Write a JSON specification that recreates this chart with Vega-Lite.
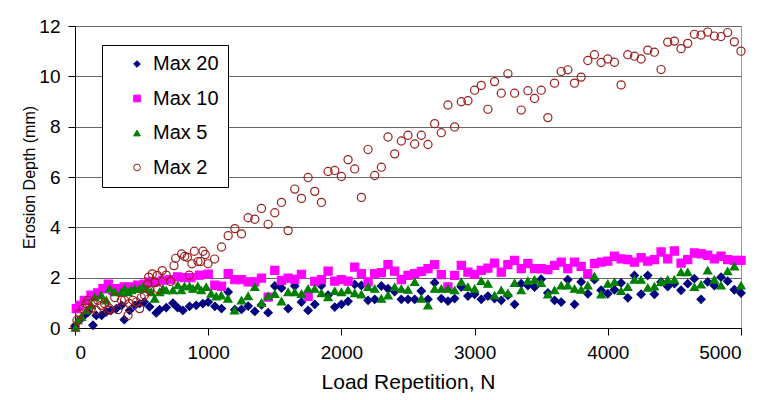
{
"$schema": "https://vega.github.io/schema/vega-lite/v6.json",
"width": 666, "height": 302,
"autosize": {"type": "none"},
"padding": {"left": 75, "top": 26, "right": 21, "bottom": 72},
"background": "white",
"config": {
  "font": "Liberation Sans",
  "view": {"stroke": "#999999", "strokeWidth": 1},
  "axis": {"labelFont": "Liberation Sans", "titleFont": "Liberation Sans", "labelColor": "#000", "titleColor": "#000", "domainColor": "#000", "tickColor": "#000", "titleFontWeight": "normal"},
  "legend": {"orient": "none", "legendX": 27, "legendY": 19, "padding": 9, "strokeColor": "#000000", "fillColor": "#ffffff", "labelFontSize": 20, "labelFont": "Liberation Sans", "labelColor": "#000", "symbolOffset": 16, "labelOffset": 6, "rowPadding": 14.5, "symbolSize": 45, "symbolStrokeWidth": 1}
},
"data": {"values": [
{"series":"Max 20","rep":0,"depth":0.07},{"series":"Max 20","rep":35,"depth":0.31},{"series":"Max 20","rep":70,"depth":0.5},{"series":"Max 20","rep":100,"depth":0.64},{"series":"Max 20","rep":135,"depth":0.11},{"series":"Max 20","rep":160,"depth":0.5},{"series":"Max 20","rep":200,"depth":0.5},{"series":"Max 20","rep":235,"depth":0.64},{"series":"Max 20","rep":270,"depth":0.7},{"series":"Max 20","rep":310,"depth":0.77},{"series":"Max 20","rep":350,"depth":0.9},{"series":"Max 20","rep":370,"depth":0.33},{"series":"Max 20","rep":410,"depth":0.7},{"series":"Max 20","rep":450,"depth":0.9},{"series":"Max 20","rep":485,"depth":0.97},{"series":"Max 20","rep":520,"depth":1.03},{"series":"Max 20","rep":560,"depth":0.84},{"series":"Max 20","rep":610,"depth":0.6},{"series":"Max 20","rep":635,"depth":0.73},{"series":"Max 20","rep":685,"depth":0.81},{"series":"Max 20","rep":735,"depth":0.99},{"series":"Max 20","rep":770,"depth":0.81},{"series":"Max 20","rep":810,"depth":0.7},{"series":"Max 20","rep":860,"depth":0.86},{"series":"Max 20","rep":910,"depth":0.9},{"series":"Max 20","rep":960,"depth":0.97},{"series":"Max 20","rep":1000,"depth":1.03},{"series":"Max 20","rep":1050,"depth":0.86},{"series":"Max 20","rep":1100,"depth":0.77},{"series":"Max 20","rep":1150,"depth":1.43},{"series":"Max 20","rep":1200,"depth":0.73},{"series":"Max 20","rep":1250,"depth":0.74},{"series":"Max 20","rep":1300,"depth":0.87},{"series":"Max 20","rep":1350,"depth":0.66},{"series":"Max 20","rep":1400,"depth":0.92},{"series":"Max 20","rep":1450,"depth":0.61},{"series":"Max 20","rep":1500,"depth":1.67},{"series":"Max 20","rep":1550,"depth":1.59},{"series":"Max 20","rep":1600,"depth":0.77},{"series":"Max 20","rep":1650,"depth":1.67},{"series":"Max 20","rep":1700,"depth":1.03},{"series":"Max 20","rep":1750,"depth":0.7},{"series":"Max 20","rep":1800,"depth":0.94},{"series":"Max 20","rep":1850,"depth":1.69},{"series":"Max 20","rep":1900,"depth":1.3},{"series":"Max 20","rep":1950,"depth":0.83},{"series":"Max 20","rep":2000,"depth":0.94},{"series":"Max 20","rep":2050,"depth":1.06},{"series":"Max 20","rep":2100,"depth":1.73},{"series":"Max 20","rep":2150,"depth":1.69},{"series":"Max 20","rep":2200,"depth":1.1},{"series":"Max 20","rep":2250,"depth":1.14},{"series":"Max 20","rep":2300,"depth":1.67},{"series":"Max 20","rep":2350,"depth":1.56},{"series":"Max 20","rep":2400,"depth":1.45},{"series":"Max 20","rep":2450,"depth":1.14},{"series":"Max 20","rep":2500,"depth":1.14},{"series":"Max 20","rep":2550,"depth":1.14},{"series":"Max 20","rep":2600,"depth":1.47},{"series":"Max 20","rep":2650,"depth":1.14},{"series":"Max 20","rep":2700,"depth":1.8},{"series":"Max 20","rep":2750,"depth":1.17},{"series":"Max 20","rep":2800,"depth":1.07},{"series":"Max 20","rep":2850,"depth":1.17},{"series":"Max 20","rep":2900,"depth":1.63},{"series":"Max 20","rep":2950,"depth":1.27},{"series":"Max 20","rep":3000,"depth":1.34},{"series":"Max 20","rep":3050,"depth":1.14},{"series":"Max 20","rep":3100,"depth":1.27},{"series":"Max 20","rep":3150,"depth":1.17},{"series":"Max 20","rep":3200,"depth":1.1},{"series":"Max 20","rep":3250,"depth":1.3},{"series":"Max 20","rep":3300,"depth":0.94},{"series":"Max 20","rep":3350,"depth":1.76},{"series":"Max 20","rep":3400,"depth":1.69},{"series":"Max 20","rep":3450,"depth":1.63},{"series":"Max 20","rep":3500,"depth":1.94},{"series":"Max 20","rep":3550,"depth":1.39},{"series":"Max 20","rep":3600,"depth":1.1},{"series":"Max 20","rep":3650,"depth":1.03},{"series":"Max 20","rep":3700,"depth":1.92},{"series":"Max 20","rep":3750,"depth":0.94},{"series":"Max 20","rep":3800,"depth":1.83},{"series":"Max 20","rep":3850,"depth":1.36},{"series":"Max 20","rep":3900,"depth":1.92},{"series":"Max 20","rep":3950,"depth":1.5},{"series":"Max 20","rep":4000,"depth":1.36},{"series":"Max 20","rep":4050,"depth":1.52},{"series":"Max 20","rep":4100,"depth":1.79},{"series":"Max 20","rep":4150,"depth":1.2},{"series":"Max 20","rep":4200,"depth":2.09},{"series":"Max 20","rep":4250,"depth":1.34},{"series":"Max 20","rep":4300,"depth":2.09},{"series":"Max 20","rep":4350,"depth":1.34},{"series":"Max 20","rep":4400,"depth":1.83},{"series":"Max 20","rep":4450,"depth":1.65},{"series":"Max 20","rep":4500,"depth":1.76},{"series":"Max 20","rep":4550,"depth":1.5},{"series":"Max 20","rep":4600,"depth":1.76},{"series":"Max 20","rep":4650,"depth":1.96},{"series":"Max 20","rep":4700,"depth":1.14},{"series":"Max 20","rep":4750,"depth":1.83},{"series":"Max 20","rep":4800,"depth":1.69},{"series":"Max 20","rep":4850,"depth":2.02},{"series":"Max 20","rep":4900,"depth":1.86},{"series":"Max 20","rep":4950,"depth":1.52},{"series":"Max 20","rep":5000,"depth":1.39},
{"series":"Max 10","rep":10,"depth":0.77},{"series":"Max 10","rep":35,"depth":0.9},{"series":"Max 10","rep":70,"depth":1.1},{"series":"Max 10","rep":120,"depth":1.3},{"series":"Max 10","rep":170,"depth":1.39},{"series":"Max 10","rep":210,"depth":1.56},{"series":"Max 10","rep":250,"depth":1.74},{"series":"Max 10","rep":285,"depth":1.5},{"series":"Max 10","rep":320,"depth":1.56},{"series":"Max 10","rep":370,"depth":1.63},{"series":"Max 10","rep":420,"depth":1.63},{"series":"Max 10","rep":470,"depth":1.7},{"series":"Max 10","rep":520,"depth":1.74},{"series":"Max 10","rep":560,"depth":1.83},{"series":"Max 10","rep":610,"depth":1.83},{"series":"Max 10","rep":660,"depth":1.9},{"series":"Max 10","rep":720,"depth":1.92},{"series":"Max 10","rep":770,"depth":2.03},{"series":"Max 10","rep":820,"depth":2.0},{"series":"Max 10","rep":870,"depth":2.0},{"series":"Max 10","rep":935,"depth":2.1},{"series":"Max 10","rep":1000,"depth":2.14},{"series":"Max 10","rep":1050,"depth":1.7},{"series":"Max 10","rep":1100,"depth":1.66},{"series":"Max 10","rep":1150,"depth":2.16},{"series":"Max 10","rep":1200,"depth":1.92},{"series":"Max 10","rep":1250,"depth":1.92},{"series":"Max 10","rep":1300,"depth":1.83},{"series":"Max 10","rep":1350,"depth":1.83},{"series":"Max 10","rep":1400,"depth":1.98},{"series":"Max 10","rep":1450,"depth":1.23},{"series":"Max 10","rep":1500,"depth":2.29},{"series":"Max 10","rep":1550,"depth":1.89},{"series":"Max 10","rep":1600,"depth":1.98},{"series":"Max 10","rep":1650,"depth":1.93},{"series":"Max 10","rep":1700,"depth":2.13},{"series":"Max 10","rep":1750,"depth":1.26},{"series":"Max 10","rep":1800,"depth":1.85},{"series":"Max 10","rep":1850,"depth":1.92},{"series":"Max 10","rep":1900,"depth":2.26},{"series":"Max 10","rep":1950,"depth":1.86},{"series":"Max 10","rep":2000,"depth":1.92},{"series":"Max 10","rep":2050,"depth":1.86},{"series":"Max 10","rep":2100,"depth":2.42},{"series":"Max 10","rep":2150,"depth":2.16},{"series":"Max 10","rep":2200,"depth":1.83},{"series":"Max 10","rep":2250,"depth":2.16},{"series":"Max 10","rep":2300,"depth":2.2},{"series":"Max 10","rep":2350,"depth":2.52},{"series":"Max 10","rep":2400,"depth":2.26},{"series":"Max 10","rep":2450,"depth":1.92},{"series":"Max 10","rep":2500,"depth":2.09},{"series":"Max 10","rep":2550,"depth":2.16},{"series":"Max 10","rep":2600,"depth":2.25},{"series":"Max 10","rep":2650,"depth":2.36},{"series":"Max 10","rep":2700,"depth":2.52},{"series":"Max 10","rep":2750,"depth":2.12},{"series":"Max 10","rep":2800,"depth":1.63},{"series":"Max 10","rep":2850,"depth":2.09},{"series":"Max 10","rep":2900,"depth":2.49},{"series":"Max 10","rep":2950,"depth":2.22},{"series":"Max 10","rep":3000,"depth":2.13},{"series":"Max 10","rep":3050,"depth":2.29},{"series":"Max 10","rep":3100,"depth":2.38},{"series":"Max 10","rep":3150,"depth":2.58},{"series":"Max 10","rep":3200,"depth":2.22},{"series":"Max 10","rep":3250,"depth":2.52},{"series":"Max 10","rep":3300,"depth":2.69},{"series":"Max 10","rep":3350,"depth":2.36},{"series":"Max 10","rep":3400,"depth":2.56},{"series":"Max 10","rep":3450,"depth":2.36},{"series":"Max 10","rep":3500,"depth":2.36},{"series":"Max 10","rep":3550,"depth":2.32},{"series":"Max 10","rep":3600,"depth":2.49},{"series":"Max 10","rep":3650,"depth":2.62},{"series":"Max 10","rep":3700,"depth":2.36},{"series":"Max 10","rep":3750,"depth":2.62},{"series":"Max 10","rep":3800,"depth":2.45},{"series":"Max 10","rep":3850,"depth":2.16},{"series":"Max 10","rep":3900,"depth":2.56},{"series":"Max 10","rep":3950,"depth":2.62},{"series":"Max 10","rep":4000,"depth":2.66},{"series":"Max 10","rep":4050,"depth":2.85},{"series":"Max 10","rep":4100,"depth":2.75},{"series":"Max 10","rep":4150,"depth":2.72},{"series":"Max 10","rep":4200,"depth":2.62},{"series":"Max 10","rep":4250,"depth":2.79},{"series":"Max 10","rep":4300,"depth":2.66},{"series":"Max 10","rep":4350,"depth":2.72},{"series":"Max 10","rep":4400,"depth":3.02},{"series":"Max 10","rep":4450,"depth":2.75},{"series":"Max 10","rep":4500,"depth":3.06},{"series":"Max 10","rep":4550,"depth":2.58},{"series":"Max 10","rep":4600,"depth":2.72},{"series":"Max 10","rep":4650,"depth":2.98},{"series":"Max 10","rep":4700,"depth":2.95},{"series":"Max 10","rep":4750,"depth":2.89},{"series":"Max 10","rep":4800,"depth":2.75},{"series":"Max 10","rep":4850,"depth":2.85},{"series":"Max 10","rep":4900,"depth":2.72},{"series":"Max 10","rep":4950,"depth":2.69},{"series":"Max 10","rep":5000,"depth":2.69},
{"series":"Max 5","rep":5,"depth":0.01},{"series":"Max 5","rep":22,"depth":0.31},{"series":"Max 5","rep":48,"depth":0.44},{"series":"Max 5","rep":85,"depth":0.7},{"series":"Max 5","rep":122,"depth":0.9},{"series":"Max 5","rep":148,"depth":1.23},{"series":"Max 5","rep":198,"depth":1.3},{"series":"Max 5","rep":235,"depth":1.1},{"series":"Max 5","rep":260,"depth":1.56},{"series":"Max 5","rep":298,"depth":1.43},{"series":"Max 5","rep":348,"depth":1.43},{"series":"Max 5","rep":372,"depth":1.56},{"series":"Max 5","rep":398,"depth":1.43},{"series":"Max 5","rep":422,"depth":1.5},{"series":"Max 5","rep":448,"depth":1.56},{"series":"Max 5","rep":485,"depth":1.56},{"series":"Max 5","rep":510,"depth":1.63},{"series":"Max 5","rep":540,"depth":1.56},{"series":"Max 5","rep":572,"depth":1.43},{"series":"Max 5","rep":598,"depth":1.17},{"series":"Max 5","rep":635,"depth":1.43},{"series":"Max 5","rep":660,"depth":1.56},{"series":"Max 5","rep":685,"depth":1.5},{"series":"Max 5","rep":735,"depth":1.5},{"series":"Max 5","rep":772,"depth":1.7},{"series":"Max 5","rep":798,"depth":1.5},{"series":"Max 5","rep":822,"depth":1.66},{"series":"Max 5","rep":860,"depth":1.66},{"series":"Max 5","rep":885,"depth":1.56},{"series":"Max 5","rep":922,"depth":1.66},{"series":"Max 5","rep":948,"depth":1.5},{"series":"Max 5","rep":985,"depth":1.63},{"series":"Max 5","rep":1022,"depth":1.37},{"series":"Max 5","rep":1060,"depth":1.26},{"series":"Max 5","rep":1098,"depth":1.3},{"series":"Max 5","rep":1148,"depth":1.17},{"series":"Max 5","rep":1198,"depth":0.7},{"series":"Max 5","rep":1250,"depth":1.1},{"series":"Max 5","rep":1300,"depth":1.27},{"series":"Max 5","rep":1350,"depth":1.63},{"series":"Max 5","rep":1400,"depth":1.0},{"series":"Max 5","rep":1450,"depth":1.27},{"series":"Max 5","rep":1500,"depth":1.36},{"series":"Max 5","rep":1550,"depth":1.06},{"series":"Max 5","rep":1600,"depth":1.43},{"series":"Max 5","rep":1650,"depth":1.43},{"series":"Max 5","rep":1700,"depth":1.36},{"series":"Max 5","rep":1750,"depth":1.56},{"series":"Max 5","rep":1800,"depth":1.56},{"series":"Max 5","rep":1850,"depth":1.39},{"series":"Max 5","rep":1900,"depth":1.23},{"series":"Max 5","rep":1950,"depth":1.47},{"series":"Max 5","rep":2000,"depth":1.43},{"series":"Max 5","rep":2050,"depth":1.5},{"series":"Max 5","rep":2100,"depth":1.39},{"series":"Max 5","rep":2150,"depth":1.34},{"series":"Max 5","rep":2200,"depth":1.63},{"series":"Max 5","rep":2250,"depth":1.56},{"series":"Max 5","rep":2300,"depth":1.17},{"series":"Max 5","rep":2350,"depth":1.3},{"series":"Max 5","rep":2400,"depth":1.63},{"series":"Max 5","rep":2450,"depth":1.56},{"series":"Max 5","rep":2500,"depth":1.52},{"series":"Max 5","rep":2550,"depth":1.83},{"series":"Max 5","rep":2600,"depth":1.17},{"series":"Max 5","rep":2650,"depth":0.9},{"series":"Max 5","rep":2700,"depth":1.56},{"series":"Max 5","rep":2750,"depth":1.56},{"series":"Max 5","rep":2800,"depth":1.56},{"series":"Max 5","rep":2850,"depth":1.5},{"series":"Max 5","rep":2900,"depth":1.83},{"series":"Max 5","rep":2950,"depth":1.63},{"series":"Max 5","rep":3000,"depth":1.56},{"series":"Max 5","rep":3050,"depth":1.87},{"series":"Max 5","rep":3100,"depth":1.76},{"series":"Max 5","rep":3150,"depth":1.3},{"series":"Max 5","rep":3200,"depth":1.5},{"series":"Max 5","rep":3250,"depth":1.39},{"series":"Max 5","rep":3300,"depth":1.79},{"series":"Max 5","rep":3350,"depth":1.5},{"series":"Max 5","rep":3400,"depth":1.87},{"series":"Max 5","rep":3450,"depth":1.92},{"series":"Max 5","rep":3500,"depth":1.79},{"series":"Max 5","rep":3550,"depth":1.34},{"series":"Max 5","rep":3600,"depth":1.5},{"series":"Max 5","rep":3650,"depth":1.69},{"series":"Max 5","rep":3700,"depth":1.69},{"series":"Max 5","rep":3750,"depth":1.56},{"series":"Max 5","rep":3800,"depth":1.52},{"series":"Max 5","rep":3850,"depth":1.69},{"series":"Max 5","rep":3900,"depth":2.05},{"series":"Max 5","rep":3950,"depth":1.34},{"series":"Max 5","rep":4000,"depth":1.76},{"series":"Max 5","rep":4050,"depth":1.83},{"series":"Max 5","rep":4100,"depth":1.47},{"series":"Max 5","rep":4150,"depth":1.63},{"series":"Max 5","rep":4200,"depth":1.92},{"series":"Max 5","rep":4250,"depth":1.92},{"series":"Max 5","rep":4300,"depth":1.6},{"series":"Max 5","rep":4350,"depth":1.65},{"series":"Max 5","rep":4400,"depth":1.83},{"series":"Max 5","rep":4450,"depth":1.92},{"series":"Max 5","rep":4500,"depth":1.92},{"series":"Max 5","rep":4550,"depth":2.22},{"series":"Max 5","rep":4600,"depth":2.22},{"series":"Max 5","rep":4650,"depth":1.63},{"series":"Max 5","rep":4700,"depth":1.73},{"series":"Max 5","rep":4750,"depth":2.29},{"series":"Max 5","rep":4800,"depth":1.92},{"series":"Max 5","rep":4850,"depth":1.69},{"series":"Max 5","rep":4900,"depth":2.26},{"series":"Max 5","rep":4950,"depth":2.45},{"series":"Max 5","rep":5000,"depth":1.69},
{"series":"Max 2","rep":0,"depth":0.04},{"series":"Max 2","rep":15,"depth":0.31},{"series":"Max 2","rep":35,"depth":0.57},{"series":"Max 2","rep":60,"depth":0.77},{"series":"Max 2","rep":85,"depth":0.97},{"series":"Max 2","rep":98,"depth":1.1},{"series":"Max 2","rep":122,"depth":0.77},{"series":"Max 2","rep":135,"depth":1.03},{"series":"Max 2","rep":160,"depth":0.7},{"series":"Max 2","rep":172,"depth":1.1},{"series":"Max 2","rep":198,"depth":0.9},{"series":"Max 2","rep":222,"depth":0.97},{"series":"Max 2","rep":248,"depth":0.7},{"series":"Max 2","rep":260,"depth":0.77},{"series":"Max 2","rep":298,"depth":1.21},{"series":"Max 2","rep":322,"depth":0.73},{"series":"Max 2","rep":348,"depth":1.1},{"series":"Max 2","rep":372,"depth":1.1},{"series":"Max 2","rep":398,"depth":0.5},{"series":"Max 2","rep":410,"depth":0.97},{"series":"Max 2","rep":435,"depth":1.1},{"series":"Max 2","rep":460,"depth":1.03},{"series":"Max 2","rep":485,"depth":0.77},{"series":"Max 2","rep":498,"depth":1.21},{"series":"Max 2","rep":522,"depth":1.3},{"series":"Max 2","rep":548,"depth":1.76},{"series":"Max 2","rep":553,"depth":2.02},{"series":"Max 2","rep":560,"depth":1.5},{"series":"Max 2","rep":580,"depth":2.15},{"series":"Max 2","rep":600,"depth":1.8},{"series":"Max 2","rep":618,"depth":2.09},{"series":"Max 2","rep":622,"depth":1.56},{"series":"Max 2","rep":655,"depth":2.28},{"series":"Max 2","rep":685,"depth":2.1},{"series":"Max 2","rep":718,"depth":1.85},{"series":"Max 2","rep":743,"depth":2.48},{"series":"Max 2","rep":756,"depth":2.77},{"series":"Max 2","rep":801,"depth":2.94},{"series":"Max 2","rep":823,"depth":2.84},{"series":"Max 2","rep":843,"depth":2.81},{"series":"Max 2","rep":858,"depth":2.1},{"series":"Max 2","rep":878,"depth":2.55},{"series":"Max 2","rep":896,"depth":3.05},{"series":"Max 2","rep":923,"depth":2.64},{"series":"Max 2","rep":943,"depth":2.64},{"series":"Max 2","rep":961,"depth":3.05},{"series":"Max 2","rep":978,"depth":2.92},{"series":"Max 2","rep":998,"depth":2.55},{"series":"Max 2","rep":1048,"depth":2.74},{"series":"Max 2","rep":1100,"depth":3.22},{"series":"Max 2","rep":1150,"depth":3.67},{"series":"Max 2","rep":1200,"depth":3.95},{"series":"Max 2","rep":1250,"depth":3.74},{"series":"Max 2","rep":1300,"depth":4.38},{"series":"Max 2","rep":1350,"depth":4.32},{"series":"Max 2","rep":1400,"depth":4.75},{"series":"Max 2","rep":1450,"depth":4.12},{"series":"Max 2","rep":1500,"depth":4.58},{"series":"Max 2","rep":1550,"depth":4.99},{"series":"Max 2","rep":1600,"depth":3.87},{"series":"Max 2","rep":1650,"depth":5.52},{"series":"Max 2","rep":1700,"depth":5.15},{"series":"Max 2","rep":1750,"depth":5.98},{"series":"Max 2","rep":1800,"depth":5.43},{"series":"Max 2","rep":1850,"depth":4.99},{"series":"Max 2","rep":1900,"depth":6.22},{"series":"Max 2","rep":1950,"depth":6.26},{"series":"Max 2","rep":2000,"depth":6.02},{"series":"Max 2","rep":2050,"depth":6.69},{"series":"Max 2","rep":2100,"depth":6.32},{"series":"Max 2","rep":2150,"depth":5.19},{"series":"Max 2","rep":2200,"depth":7.09},{"series":"Max 2","rep":2250,"depth":6.06},{"series":"Max 2","rep":2300,"depth":6.39},{"series":"Max 2","rep":2350,"depth":7.59},{"series":"Max 2","rep":2400,"depth":6.92},{"series":"Max 2","rep":2450,"depth":7.43},{"series":"Max 2","rep":2500,"depth":7.66},{"series":"Max 2","rep":2550,"depth":7.31},{"series":"Max 2","rep":2600,"depth":7.66},{"series":"Max 2","rep":2650,"depth":7.29},{"series":"Max 2","rep":2700,"depth":8.12},{"series":"Max 2","rep":2750,"depth":7.76},{"series":"Max 2","rep":2800,"depth":8.86},{"series":"Max 2","rep":2850,"depth":7.99},{"series":"Max 2","rep":2900,"depth":8.99},{"series":"Max 2","rep":2950,"depth":9.03},{"series":"Max 2","rep":3000,"depth":9.45},{"series":"Max 2","rep":3050,"depth":9.64},{"series":"Max 2","rep":3100,"depth":8.69},{"series":"Max 2","rep":3150,"depth":9.79},{"series":"Max 2","rep":3200,"depth":9.33},{"series":"Max 2","rep":3250,"depth":10.1},{"series":"Max 2","rep":3300,"depth":9.33},{"series":"Max 2","rep":3350,"depth":8.66},{"series":"Max 2","rep":3400,"depth":9.43},{"series":"Max 2","rep":3450,"depth":9.12},{"series":"Max 2","rep":3500,"depth":9.45},{"series":"Max 2","rep":3550,"depth":8.36},{"series":"Max 2","rep":3600,"depth":9.73},{"series":"Max 2","rep":3650,"depth":10.19},{"series":"Max 2","rep":3700,"depth":10.26},{"series":"Max 2","rep":3750,"depth":9.73},{"series":"Max 2","rep":3800,"depth":9.97},{"series":"Max 2","rep":3850,"depth":10.63},{"series":"Max 2","rep":3900,"depth":10.86},{"series":"Max 2","rep":3950,"depth":10.55},{"series":"Max 2","rep":4000,"depth":10.69},{"series":"Max 2","rep":4050,"depth":10.56},{"series":"Max 2","rep":4100,"depth":9.66},{"series":"Max 2","rep":4150,"depth":10.86},{"series":"Max 2","rep":4200,"depth":10.8},{"series":"Max 2","rep":4250,"depth":10.69},{"series":"Max 2","rep":4300,"depth":11.04},{"series":"Max 2","rep":4350,"depth":10.96},{"series":"Max 2","rep":4400,"depth":10.27},{"series":"Max 2","rep":4450,"depth":11.36},{"series":"Max 2","rep":4500,"depth":11.4},{"series":"Max 2","rep":4550,"depth":11.1},{"series":"Max 2","rep":4600,"depth":11.31},{"series":"Max 2","rep":4650,"depth":11.67},{"series":"Max 2","rep":4700,"depth":11.64},{"series":"Max 2","rep":4750,"depth":11.76},{"series":"Max 2","rep":4800,"depth":11.6},{"series":"Max 2","rep":4850,"depth":11.58},{"series":"Max 2","rep":4900,"depth":11.74},{"series":"Max 2","rep":4950,"depth":11.37},{"series":"Max 2","rep":5000,"depth":11.0}
]},
"mark": {"type": "point", "strokeWidth": 1.2, "opacity": 1, "size": 66, "clip": false},
"encoding": {
  "x": {"field": "rep", "type": "quantitative", "scale": {"domain": [0, 5000], "nice": false},
        "axis": {"values": [0, 1000, 2000, 3000, 4000, 5000], "format": "d", "grid": false, "tickSize": 7, "labelFontSize": 19, "labelPadding": 8, "title": "Load Repetition, N", "titleFontSize": 21, "titlePadding": 9}},
  "y": {"field": "depth", "type": "quantitative", "scale": {"domain": [0, 12], "nice": false},
        "axis": {"values": [0, 2, 4, 6, 8, 10, 12], "grid": true, "gridColor": "#666666", "gridWidth": 1, "gridOpacity": 1, "tickSize": 7, "labelFontSize": 19, "labelPadding": 8, "title": "Erosion Depth (mm)", "titleFontSize": 16, "titlePadding": 1}},
  "shape": {"field": "series", "type": "nominal",
    "scale": {"domain": ["Max 20", "Max 10", "Max 5", "Max 2"], "range": ["diamond", "square", "triangle-up", "circle"]},
    "legend": {"title": null, "labelExpr": "datum.label + '\u2003'"}},
  "fill": {"field": "series", "type": "nominal",
    "scale": {"domain": ["Max 20", "Max 10", "Max 5", "Max 2"], "range": ["#000080", "#FF00FF", "#008000", "transparent"]},
    "legend": {"title": null, "labelExpr": "datum.label + '\u2003'"}},
  "stroke": {"field": "series", "type": "nominal",
    "scale": {"domain": ["Max 20", "Max 10", "Max 5", "Max 2"], "range": ["#000080", "#FF00FF", "#008000", "#9A1F1F"]},
    "legend": {"title": null, "labelExpr": "datum.label + '\u2003'"}}
}
}
